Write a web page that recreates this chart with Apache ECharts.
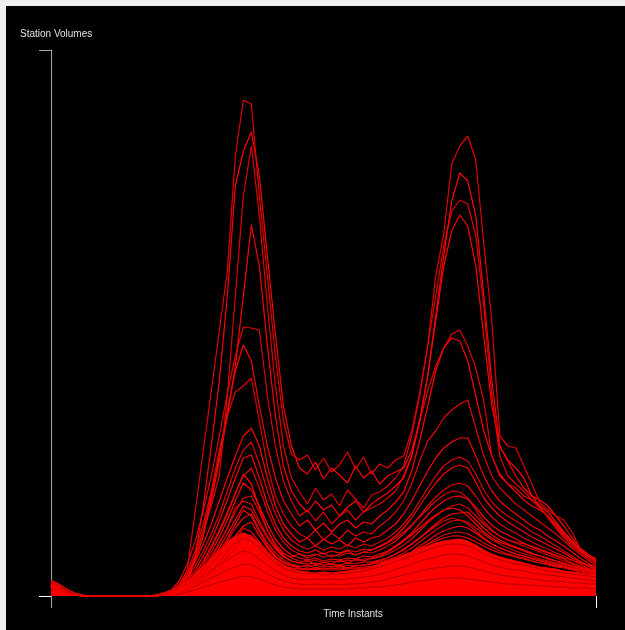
<!DOCTYPE html>
<html>
<head>
<meta charset="utf-8">
<script src="https://cdn.jsdelivr.net/npm/echarts@6/dist/echarts.min.js"></script>
<style>
    html, body { margin: 0; padding: 0; background: #f0f0f0; }
    #chart { position: absolute; left: 6px; top: 6px; width: 619px; height: 624px; background: #000; }
</style>
</head>
<body>
<div id="chart"></div>
<script>
// time instants, 15 min steps
const timeInstants = ['06:00','06:15','06:30','06:45','07:00','07:15','07:30','07:45','08:00','08:15',
    '08:30','08:45','09:00','09:15','09:30','09:45','10:00','10:15','10:30','10:45',
    '11:00','11:15','11:30','11:45','12:00','12:15','12:30','12:45','13:00','13:15',
    '13:30','13:45','14:00','14:15','14:30','14:45','15:00','15:15','15:30','15:45',
    '16:00','16:15','16:30','16:45','17:00','17:15','17:30','17:45','18:00','18:15',
    '18:30','18:45','19:00','19:15','19:30','19:45','20:00','20:15','20:30','20:45',
    '21:00','21:15','21:30','21:45','22:00','22:15','22:30','22:45','23:00'];

const yMax = 546;

// solid band of the many small stations
const smallStations = [16, 12, 7, 3, 1, 0, 0, 0, 0, 0,
    0, 0, 0, 1, 3, 6, 10, 15, 22, 30,
    38, 46, 54, 60, 63, 60, 53, 45, 37, 31,
    27, 25, 24, 23, 24, 23, 24, 25, 26, 27,
    29, 32, 35, 37, 40, 43, 47, 50, 53, 55,
    56, 57, 55, 51, 46, 42, 39, 37, 35, 33,
    31, 29, 28, 27, 25, 24, 23, 22, 21];

const station1 = [14, 9, 4, 1, 0, 0, 0, 0, 0, 0,
    0, 0, 0, 0, 1, 4, 10, 26, 85, 145,
    205, 265, 325, 440, 496, 492, 400, 320, 240, 175,
    142, 136, 141, 126, 138, 124, 131, 144, 127, 139,
    122, 132, 128, 136, 140, 165, 203, 250, 320, 362,
    432, 450, 460, 436, 352, 275, 160, 150, 148, 130,
    112, 93, 86, 80, 76, 64, 48, 40, 34];
const station2 = [13, 8, 4, 1, 0, 0, 0, 0, 0, 0,
    0, 0, 0, 0, 1, 3, 6, 10, 40, 90,
    150, 215, 300, 410, 445, 464, 420, 340, 262, 190,
    150, 128, 122, 134, 117, 128, 121, 113, 130, 118,
    125, 112, 120, 124, 128, 145, 175, 220, 280, 340,
    395, 423, 415, 380, 300, 215, 150, 136, 128, 118,
    100, 90, 84, 74, 64, 55, 46, 40, 38];
const station3 = [13, 8, 3, 1, 0, 0, 0, 0, 0, 0,
    0, 0, 0, 0, 1, 3, 8, 20, 40, 65,
    90, 120, 200, 300, 400, 450, 380, 290, 210, 150,
    118, 104, 92, 108, 96, 102, 90, 106, 97, 88,
    101, 104, 110, 118, 130, 160, 200, 250, 300, 350,
    385, 396, 392, 360, 290, 200, 140, 120, 112, 105,
    96, 88, 80, 70, 60, 52, 45, 40, 35];
const station4 = [12, 8, 3, 1, 0, 0, 0, 0, 0, 0,
    0, 0, 0, 0, 1, 3, 8, 18, 35, 60,
    95, 135, 180, 230, 300, 371, 330, 250, 180, 130,
    105, 92, 84, 95, 86, 91, 80, 89, 95, 84,
    92, 98, 103, 110, 118, 140, 175, 220, 275, 330,
    365, 381, 370, 330, 260, 190, 150, 135, 120, 108,
    100, 96, 90, 80, 70, 58, 48, 42, 36];
const station5 = [12, 7, 3, 1, 0, 0, 0, 0, 0, 0,
    0, 0, 0, 0, 2, 6, 15, 32, 55, 85,
    120, 160, 203, 240, 269, 268, 266, 200, 150, 115,
    95, 80, 86, 75, 84, 72, 80, 86, 76, 84,
    88, 92, 98, 105, 120, 140, 175, 205, 230, 248,
    262, 266, 250, 228, 195, 140, 120, 112, 108, 100,
    96, 90, 78, 68, 58, 50, 44, 38, 32];
const station6 = [11, 7, 3, 1, 0, 0, 0, 0, 0, 0,
    0, 0, 0, 0, 1, 4, 10, 22, 40, 65,
    100, 140, 185, 225, 251, 235, 190, 150, 118, 95,
    82, 70, 76, 66, 73, 64, 72, 76, 68, 74,
    72, 80, 86, 94, 104, 125, 155, 190, 225, 248,
    258, 255, 235, 200, 165, 140, 122, 112, 104, 96,
    90, 86, 80, 72, 62, 54, 46, 40, 34];
const station7 = [11, 7, 3, 1, 0, 0, 0, 0, 0, 0,
    0, 0, 0, 0, 1, 5, 12, 25, 45, 72,
    105, 145, 180, 204, 210, 218, 175, 130, 100, 82,
    70, 62, 58, 66, 56, 63, 57, 66, 60, 64,
    62, 70, 76, 84, 95, 112, 135, 155, 165, 178,
    186, 192, 196, 168, 140, 120, 108, 100, 92, 86,
    80, 74, 68, 62, 55, 48, 42, 36, 30];
const station8 = [10, 6, 3, 1, 0, 0, 0, 0, 0, 0,
    0, 0, 0, 0, 1, 4, 10, 20, 35, 52,
    72, 95, 118, 140, 160, 168, 150, 118, 90, 72,
    62, 54, 58, 50, 57, 52, 56, 50, 58, 54,
    58, 60, 66, 72, 82, 95, 110, 125, 138, 148,
    154, 158, 158, 140, 120, 105, 95, 88, 82, 76,
    70, 66, 60, 55, 50, 44, 38, 33, 28];
const station9 = [10, 6, 3, 1, 0, 0, 0, 0, 0, 0,
    0, 0, 0, 0, 1, 3, 8, 18, 30, 45,
    62, 82, 105, 128, 146, 154, 132, 105, 82, 66,
    56, 50, 47, 50, 46, 49, 47, 51, 48, 52,
    50, 54, 58, 64, 72, 82, 95, 108, 120, 130,
    136, 139, 135, 122, 106, 94, 86, 80, 75, 70,
    64, 60, 55, 50, 45, 40, 35, 31, 27];
const station10 = [10, 6, 3, 1, 0, 0, 0, 0, 0, 0,
    0, 0, 0, 0, 1, 3, 7, 15, 26, 40,
    56, 75, 96, 118, 138, 141, 118, 92, 72, 58,
    50, 45, 43, 46, 42, 45, 43, 46, 44, 47,
    46, 50, 54, 60, 68, 78, 90, 102, 113, 122,
    128, 131, 128, 114, 98, 88, 80, 74, 69, 64,
    59, 55, 51, 47, 43, 38, 34, 30, 26];
const station11 = [9, 6, 3, 1, 0, 0, 0, 0, 0, 0,
    0, 0, 0, 0, 1, 3, 6, 13, 23, 35,
    50, 66, 84, 103, 120, 128, 108, 85, 66, 54,
    46, 42, 40, 42, 39, 41, 40, 43, 41, 44,
    43, 46, 50, 55, 62, 70, 80, 90, 99, 106,
    111, 113, 110, 100, 88, 79, 72, 67, 63, 58,
    54, 50, 47, 43, 40, 36, 32, 28, 25];
const station12 = [9, 5, 2, 1, 0, 0, 0, 0, 0, 0,
    0, 0, 0, 0, 1, 2, 5, 11, 20, 31,
    44, 59, 76, 95, 113, 106, 90, 72, 57, 47,
    41, 38, 36, 38, 35, 37, 36, 38, 37, 40,
    39, 42, 45, 50, 56, 63, 72, 81, 89, 95,
    99, 100, 97, 89, 79, 71, 65, 61, 57, 53,
    49, 46, 43, 40, 37, 33, 30, 27, 24];
const station13 = [12, 8, 4, 1, 0, 0, 0, 0, 0, 0,
    0, 0, 0, 0, 1, 2, 5, 10, 18, 28,
    40, 53, 68, 84, 98, 100, 84, 66, 52, 43,
    38, 35, 34, 36, 33, 35, 34, 36, 35, 37,
    37, 39, 42, 46, 51, 57, 65, 73, 80, 86,
    90, 92, 88, 80, 72, 65, 60, 56, 53, 50,
    47, 44, 41, 38, 35, 32, 29, 27, 25];
const station14 = [11, 7, 3, 1, 0, 0, 0, 0, 0, 0,
    0, 0, 0, 0, 1, 2, 4, 9, 16, 25,
    36, 48, 62, 76, 90, 86, 72, 58, 47, 39,
    35, 33, 32, 33, 31, 32, 31, 33, 32, 34,
    34, 36, 38, 42, 46, 52, 58, 65, 72, 78,
    82, 83, 84, 76, 68, 61, 56, 52, 49, 46,
    43, 40, 38, 35, 33, 30, 28, 26, 24];
const station15 = [10, 6, 3, 1, 0, 0, 0, 0, 0, 0,
    0, 0, 0, 0, 1, 2, 4, 8, 14, 22,
    32, 43, 55, 68, 78, 82, 66, 53, 43, 36,
    32, 30, 29, 31, 29, 30, 29, 31, 30, 31,
    32, 34, 36, 39, 43, 48, 54, 60, 66, 71,
    75, 76, 74, 68, 62, 56, 52, 48, 45, 42,
    40, 37, 35, 33, 31, 29, 27, 25, 23];
const station16 = [9, 6, 3, 1, 0, 0, 0, 0, 0, 0,
    0, 0, 0, 0, 1, 2, 3, 7, 12, 19,
    28, 38, 49, 60, 70, 74, 60, 48, 39, 33,
    30, 28, 27, 28, 27, 28, 27, 28, 28, 29,
    30, 31, 33, 36, 40, 44, 50, 55, 61, 65,
    68, 70, 68, 63, 57, 52, 48, 45, 42, 40,
    37, 35, 33, 31, 29, 27, 25, 24, 22];
const station17 = [8, 5, 2, 1, 0, 0, 0, 0, 0, 0,
    0, 0, 0, 0, 1, 1, 3, 6, 11, 17,
    25, 34, 44, 55, 68, 64, 54, 44, 36, 31,
    28, 27, 26, 27, 26, 26, 26, 27, 27, 28,
    28, 30, 32, 34, 38, 42, 47, 52, 57, 61,
    63, 64, 62, 58, 53, 49, 45, 42, 40, 38,
    35, 33, 31, 29, 28, 26, 24, 23, 21];
const station18 = [10, 6, 3, 1, 0, 0, 0, 0, 0, 0,
    0, 0, 0, 0, 1, 3, 6, 12, 22, 34,
    48, 64, 82, 102, 122, 112, 88, 66, 50, 40,
    35, 33, 36, 31, 34, 32, 36, 33, 37, 35,
    38, 40, 44, 49, 55, 61, 68, 75, 81, 86,
    88, 86, 80, 72, 64, 58, 54, 51, 48, 45,
    42, 40, 37, 35, 32, 30, 28, 26, 24];
const station19 = [11, 7, 3, 1, 0, 0, 0, 0, 0, 0,
    0, 0, 0, 0, 1, 2, 5, 10, 17, 27,
    38, 52, 68, 88, 95, 92, 75, 60, 48, 42,
    39, 42, 38, 41, 43, 39, 42, 45, 41, 44,
    46, 49, 53, 58, 64, 71, 79, 87, 95, 101,
    105, 104, 98, 86, 74, 66, 60, 56, 54, 52,
    50, 47, 44, 41, 38, 36, 33, 31, 29];
const station20 = [9, 6, 3, 1, 0, 0, 0, 0, 0, 0,
    0, 0, 0, 0, 1, 2, 5, 9, 15, 23,
    33, 44, 57, 72, 86, 80, 64, 50, 40, 34,
    31, 29, 31, 28, 30, 29, 31, 28, 30, 31,
    32, 33, 35, 38, 41, 44, 48, 52, 55, 58,
    60, 60, 58, 54, 50, 46, 43, 41, 39, 37,
    35, 33, 32, 30, 29, 27, 26, 25, 23];
const station21 = [8, 5, 2, 1, 0, 0, 0, 0, 0, 0,
    0, 0, 0, 0, 1, 2, 4, 7, 11, 17,
    24, 31, 39, 48, 57, 60, 52, 43, 36, 31,
    28, 27, 28, 26, 28, 27, 29, 28, 30, 31,
    33, 35, 38, 42, 47, 52, 58, 64, 70, 75,
    78, 76, 72, 65, 58, 52, 48, 45, 42, 40,
    38, 36, 34, 32, 30, 28, 27, 25, 24];
// stations inside the solid band, drawn dark
const station22 = [15, 11, 6, 2, 0, 0, 0, 0, 0, 0,
    0, 0, 0, 0, 2, 5, 9, 13, 19, 26,
    33, 40, 47, 53, 58, 55, 48, 40, 33, 28,
    25, 23, 22, 23, 21, 22, 23, 22, 24, 25,
    27, 29, 32, 35, 37, 40, 43, 46, 49, 51,
    52, 52, 50, 47, 42, 39, 36, 34, 32, 31,
    29, 27, 25, 24, 23, 22, 21, 20, 19];
const station23 = [13, 9, 5, 2, 0, 0, 0, 0, 0, 0,
    0, 0, 0, 0, 1, 3, 6, 10, 15, 20,
    26, 31, 36, 41, 45, 43, 37, 31, 25, 21,
    18, 17, 16, 17, 16, 17, 16, 17, 18, 19,
    20, 22, 24, 27, 29, 32, 35, 37, 39, 41,
    42, 42, 40, 37, 34, 31, 29, 27, 26, 25,
    23, 22, 21, 20, 19, 18, 17, 16, 15];
const station24 = [10, 7, 4, 1, 0, 0, 0, 0, 0, 0,
    0, 0, 0, 0, 1, 2, 4, 7, 10, 14,
    18, 22, 26, 29, 32, 31, 27, 22, 18, 15,
    13, 12, 11, 12, 11, 12, 11, 12, 12, 13,
    14, 15, 17, 19, 21, 23, 25, 27, 28, 29,
    30, 30, 29, 27, 25, 23, 21, 20, 19, 18,
    17, 16, 15, 15, 14, 13, 13, 12, 12];
const station25 = [7, 5, 2, 1, 0, 0, 0, 0, 0, 0,
    0, 0, 0, 0, 1, 1, 2, 4, 6, 9,
    11, 14, 16, 18, 20, 19, 17, 14, 11, 9,
    8, 7, 7, 7, 7, 7, 7, 7, 8, 8,
    9, 9, 10, 11, 12, 14, 15, 16, 17, 18,
    18, 18, 17, 16, 15, 14, 13, 12, 12, 11,
    11, 10, 10, 9, 9, 8, 8, 8, 7];

const bandStations = [station22, station23, station24, station25];
const stations = [station21, station20, station19, station18, station17, station16,
    station15, station14, station13, station12, station11, station10, station9,
    station8, station7, station6, station5, station4, station3, station2, station1];
const lineColors = ['#e00000', '#ff0000'];

const chart = echarts.init(document.getElementById('chart'));

let series = [{
    type: 'line',
    data: smallStations,
    symbol: 'none',
    lineStyle: { width: 1, color: '#ff0000' },
    areaStyle: { color: '#ff0000', opacity: 1 },
    silent: true
}];
bandStations.forEach((s) => {
    series.push({
        type: 'line',
        data: s,
        symbol: 'none',
        lineStyle: { width: 1, color: '#b00000' },
        silent: true
    });
});
stations.forEach((s, i) => {
    series.push({
        type: 'line',
        data: s,
        symbol: 'none',
        lineStyle: { width: 1.2, color: lineColors[i % 2] },
        silent: true
    });
});

const textStyle = { color: '#e0e0e0', fontSize: 10, fontWeight: 'normal', fontFamily: 'Liberation Sans' };

const option = {
    backgroundColor: '#000',
    animation: false,
    title: [
        { text: 'Station Volumes', left: 14, top: 23, padding: 0, textStyle: textStyle },
        { text: 'Time Instants', left: 347, top: 603, padding: 0, textAlign: 'center', textStyle: textStyle }
    ],
    grid: { left: 45, top: 44, right: 29, bottom: 34, containLabel: false },
    xAxis: [{
        type: 'category',
        data: timeInstants,
        boundaryGap: false,
        axisLine: { show: false },
        axisTick: { show: true, length: 12, interval: (i) => i === timeInstants.length - 1, lineStyle: { color: '#ffffff' } },
        axisLabel: { show: false },
        splitLine: { show: false }
    }, {
        type: 'category',
        data: timeInstants,
        boundaryGap: false,
        position: 'bottom',
        axisLine: { show: false },
        axisTick: { show: true, length: 12, interval: (i) => i === 0, lineStyle: { color: '#a8a8a8' } },
        axisLabel: { show: false },
        splitLine: { show: false }
    }],
    yAxis: [{
        type: 'value',
        min: 0,
        max: yMax,
        axisLine: { show: true, lineStyle: { color: '#a8a8a8' } },
        axisTick: { show: true, length: 12, customValues: [yMax], lineStyle: { color: '#a8a8a8' } },
        axisLabel: { show: false },
        splitLine: { show: false }
    }, {
        type: 'value',
        min: 0,
        max: yMax,
        position: 'left',
        axisLine: { show: false },
        axisTick: { show: true, length: 12, customValues: [0], lineStyle: { color: '#ffffff' } },
        axisLabel: { show: false },
        splitLine: { show: false }
    }],
    series: series
};
chart.setOption(option);
</script>
</body>
</html>
